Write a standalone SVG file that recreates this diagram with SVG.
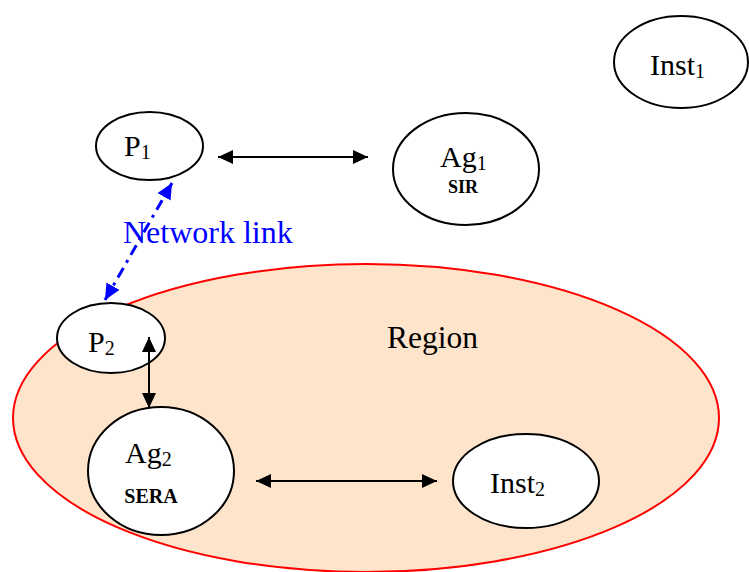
<svg xmlns="http://www.w3.org/2000/svg" width="749" height="572" viewBox="0 0 749 572">
<style>
.node{fill:#fff;stroke:#000;stroke-width:2}
.t{font-family:"Liberation Serif","Times New Roman",serif;font-size:30px;fill:#000}
.sub{font-size:20px}
.b{font-family:"Liberation Serif","Times New Roman",serif;font-weight:bold;fill:#000}
.conn{stroke:#000;stroke-width:2;fill:none}
.net{stroke:#0000ff;stroke-width:3;fill:none;stroke-dasharray:11 6 3 6}
</style>
<defs>
<marker id="ah" markerUnits="userSpaceOnUse" markerWidth="16" markerHeight="15" refX="15" refY="7" orient="auto-start-reverse" viewBox="0 0 16 15">
<path d="M0,0 L15,7 L0,14 z" fill="#000"/>
</marker>
<marker id="ahb" markerUnits="userSpaceOnUse" markerWidth="17" markerHeight="16" refX="16" refY="7.5" orient="auto-start-reverse" viewBox="0 0 17 16">
<path d="M0,0 L16,7.5 L0,15 z" fill="#0000ff"/>
</marker>
</defs>
<rect width="749" height="572" fill="#fff"/>
<g id="region">
<ellipse cx="366" cy="418" rx="353" ry="154" fill="#fde4cb" stroke="#ff0000" stroke-width="2"/>
<text class="t" x="387" y="348" font-size="31.5" style="font-size:31.5px">Region</text>
</g>
<g id="inst1">
<ellipse class="node" cx="681" cy="62" rx="67" ry="46"/>
<text class="t" x="650" y="75">Inst<tspan class="sub" dy="3">1</tspan></text>
</g>
<g id="p1">
<ellipse class="node" cx="149.5" cy="146" rx="53.5" ry="34"/>
<text class="t" x="124" y="156">P<tspan class="sub" dy="3">1</tspan></text>
</g>
<g id="ag1">
<ellipse class="node" cx="466" cy="169" rx="73" ry="56"/>
<text class="t" x="440" y="167">Ag<tspan class="sub" dy="3">1</tspan></text>
<text class="b" x="463" y="193" font-size="18" text-anchor="middle">SIR</text>
</g>
<g id="p2">
<ellipse class="node" cx="111" cy="338" rx="54" ry="35"/>
<text class="t" x="88" y="352">P<tspan class="sub" dy="3">2</tspan></text>
</g>
<g id="ag2">
<ellipse class="node" cx="161" cy="471" rx="73" ry="64"/>
<text class="t" x="125" y="463">Ag<tspan class="sub" dy="3">2</tspan></text>
<text class="b" x="151" y="503" font-size="20" text-anchor="middle">SERA</text>
</g>
<g id="inst2">
<ellipse class="node" cx="526" cy="481" rx="73" ry="47"/>
<text class="t" x="490" y="493">Inst<tspan class="sub" dy="3">2</tspan></text>
</g>
<g id="connectors">
<line class="conn" x1="218" y1="157" x2="368" y2="157" marker-start="url(#ah)" marker-end="url(#ah)"/>
<line class="conn" x1="149" y1="337" x2="149" y2="408" marker-start="url(#ah)" marker-end="url(#ah)"/>
<line class="conn" x1="256" y1="481" x2="437" y2="481" marker-start="url(#ah)" marker-end="url(#ah)"/>
<text x="123" y="243" font-family="'Liberation Serif','Times New Roman',serif" font-size="32" fill="#0000ff">Network link</text>
<line class="net" x1="105" y1="300" x2="172" y2="183" marker-start="url(#ahb)" marker-end="url(#ahb)"/>
</g>
</svg>
